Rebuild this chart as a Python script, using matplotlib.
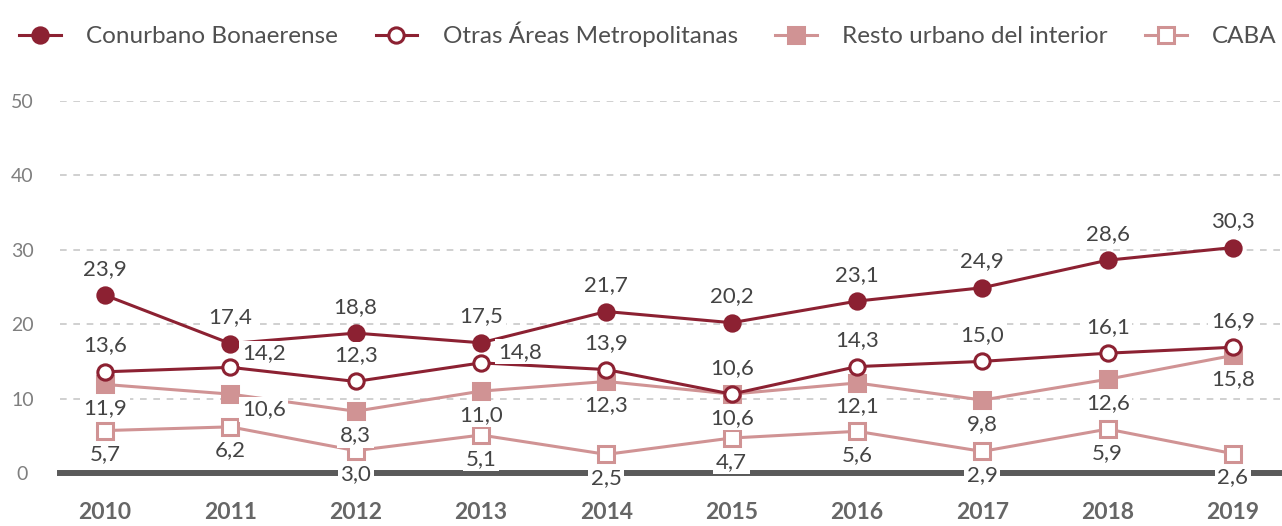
import matplotlib
matplotlib.use("Agg")
import matplotlib.pyplot as plt
from matplotlib.lines import Line2D

plt.rcParams['font.family'] = ['Lato', 'DejaVu Sans']

years = ['2010', '2011', '2012', '2013', '2014', '2015', '2016', '2017', '2018', '2019']

conurbano = [23.9, 17.4, 18.8, 17.5, 21.7, 20.2, 23.1, 24.9, 28.6, 30.3]
otras = [13.6, 14.2, 12.3, 14.8, 13.9, 10.6, 14.3, 15.0, 16.1, 16.9]
resto = [11.9, 10.6, 8.3, 11.0, 12.3, 10.6, 12.1, 9.8, 12.6, 15.8]
caba = [5.7, 6.2, 3.0, 5.1, 2.5, 4.7, 5.6, 2.9, 5.9, 2.6]

series_names = ['Conurbano Bonaerense', 'Otras Áreas Metropolitanas',
                'Resto urbano del interior', 'CABA']

dark = '#8C2132'
pink = '#D09394'
txt = '#444444'

fig = plt.figure(figsize=(12.82, 5.26), dpi=100)
ax = fig.add_axes([60 / 1282, 0.1008, 1 - 60 / 1282, 0.7072])
x = list(range(len(years)))

styles = [
    dict(color=dark, marker='o', mfc=dark, mec=dark),
    dict(color=dark, marker='o', mfc='white', mec=dark),
    dict(color=pink, marker='s', mfc=pink, mec=pink),
    dict(color=pink, marker='s', mfc='white', mec=pink),
]
data = [conurbano, otras, resto, caba]
# posicion de las etiquetas (puntos): arriba las dos primeras, abajo las otras
default_off = [(0, 19), (0, 19), (0, -17), (0, -17)]
special_off = {(1, 1): (24, 10), (1, 3): (28, 8), (2, 1): (24, -11)}

handles = []
for i, (vals, st) in enumerate(zip(data, styles)):
    ax.plot(x, vals, lw=2.2, ms=11, mew=2.2, zorder=4 - i, **st)
    handles.append(Line2D([], [], lw=2.2, ms=11, mew=2.2, **st))
    for j, v in enumerate(vals):
        off = special_off.get((i, j), default_off[i])
        ax.annotate(f'{v:.1f}'.replace('.', ','), (j, v), xytext=off,
                    textcoords='offset points', ha='center', va='center',
                    fontsize=16, color=txt, zorder=10,
                    bbox=dict(boxstyle='square,pad=0.12', fc='white', ec='none'))

ax.set_xlim(-0.359, 9.391)
ax.set_ylim(0, 50)
ax.set_yticks([0, 10, 20, 30, 40, 50])
ax.set_xticks(x)
ax.set_xticklabels(years, fontsize=16.5, fontweight='bold', color='#666666')
ax.tick_params(axis='x', length=0, pad=21)
ax.tick_params(axis='y', length=0, pad=27, labelsize=14, labelcolor='#7f7f7f')
for lab in ax.get_yticklabels():
    lab.set_horizontalalignment('center')

ax.grid(axis='y', color='#c8c8c8', linestyle=(0, (4, 4)), lw=1.2)
ax.axhline(0, color='#5a5a5a', lw=4.3, zorder=3, clip_on=False)
for s in ax.spines.values():
    s.set_visible(False)

fig.legend(handles, series_names, loc='upper left', bbox_to_anchor=(-0.002, 1.0),
           ncol=4, frameon=False, fontsize=17.5, handlelength=1.7,
           handletextpad=1.05, columnspacing=1.55, labelcolor='#505050')

fig.savefig('out.png', dpi=100)
